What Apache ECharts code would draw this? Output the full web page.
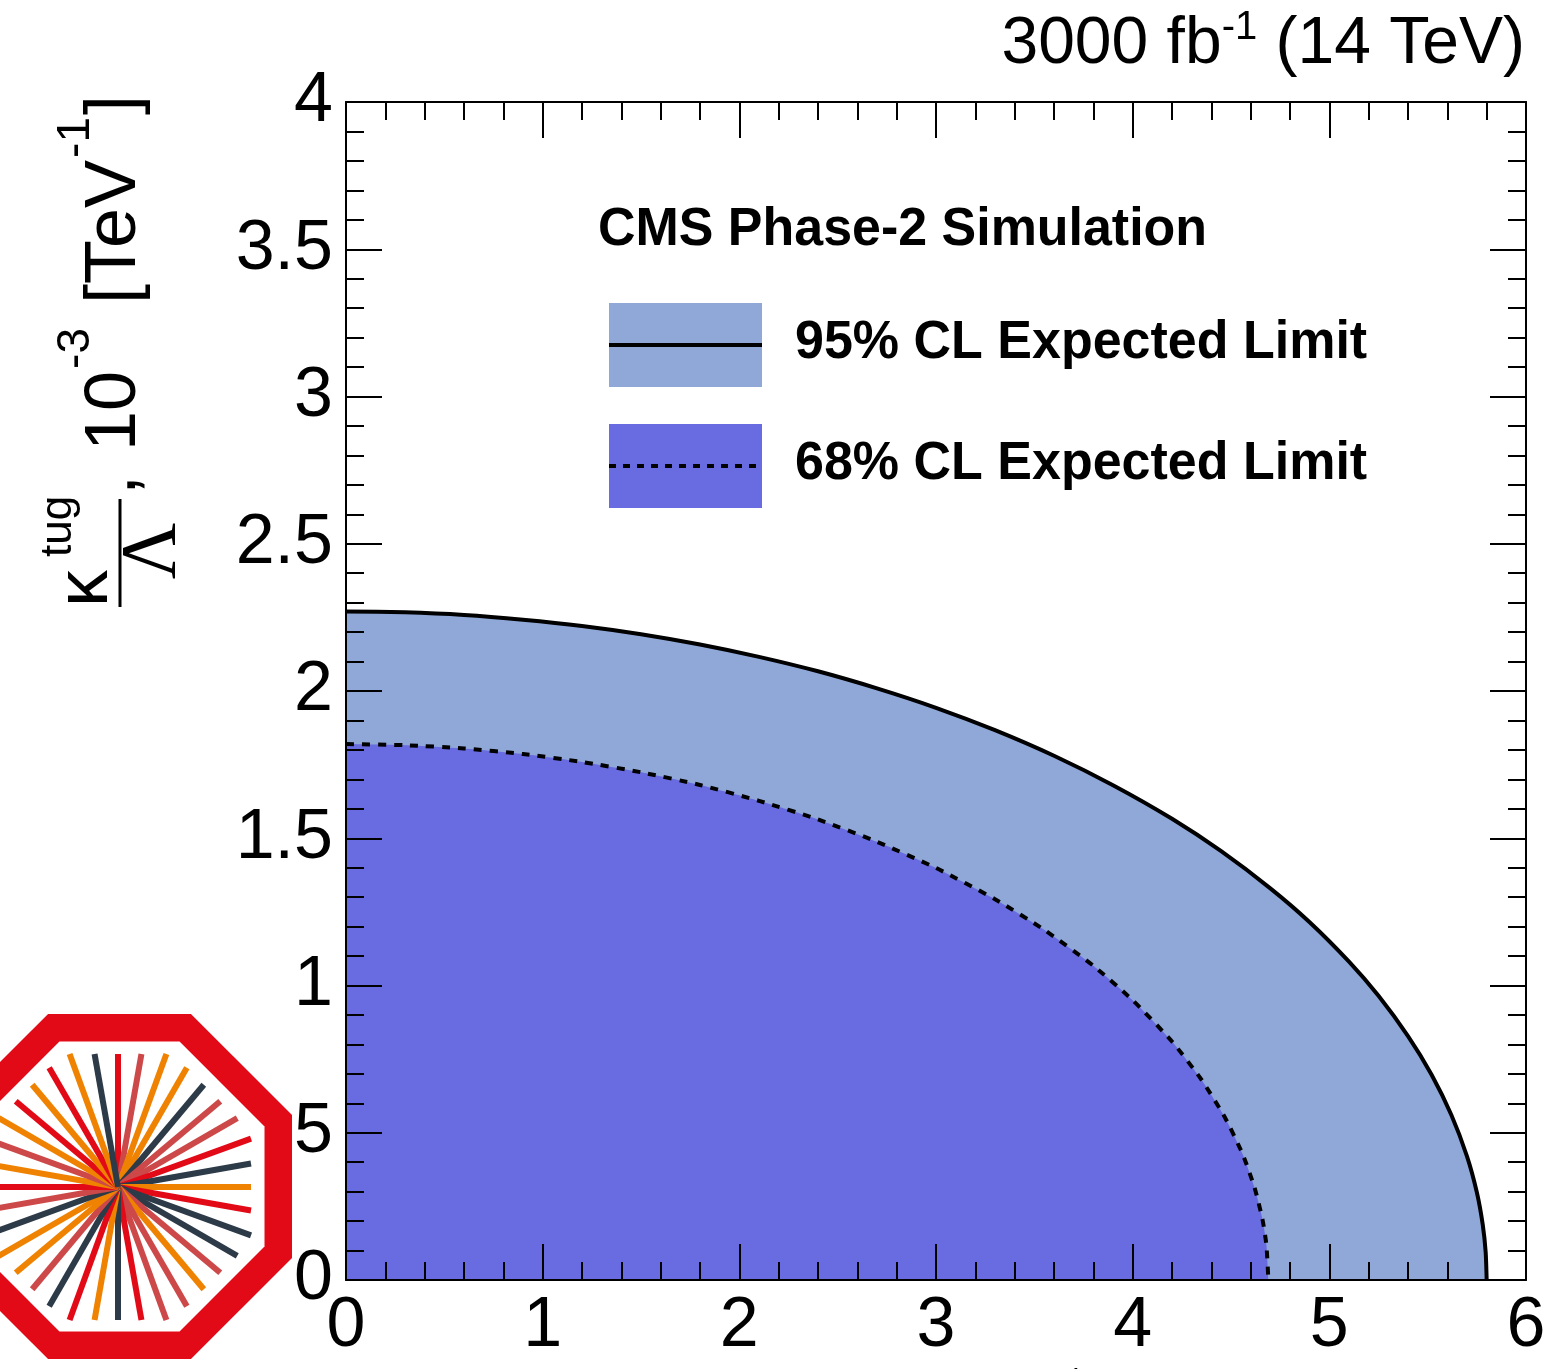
<!DOCTYPE html>
<html>
<head>
<meta charset="utf-8">
<script src="https://cdn.jsdelivr.net/npm/echarts@6/dist/echarts.min.js"></script>
<style>
  html, body { margin: 0; padding: 0; background: #fff; }
  #chart { width: 1562px; height: 1369px; }
</style>
</head>
<body>
<div id="chart"></div>
<script>
// Expected-limit contours in the (kappa_tcg/Lambda, kappa_tug/Lambda) plane
const limit95X = [0, 0.3, 0.6, 0.9, 1.2, 1.5, 1.8, 2.1, 2.4, 2.7, 3.0, 3.3, 3.6, 3.9, 4.2, 4.45, 4.7, 4.9, 5.1, 5.25, 5.4, 5.52, 5.62, 5.7, 5.75, 5.78, 5.795, 5.8];
const limit95Y = [2.27, 2.267, 2.258, 2.242, 2.221, 2.193, 2.158, 2.116, 2.067, 2.009, 1.943, 1.867, 1.78, 1.68, 1.566, 1.456, 1.33, 1.215, 1.081, 0.965, 0.828, 0.697, 0.561, 0.42, 0.298, 0.188, 0.094, 0];
const limit68X = [0, 0.3, 0.6, 0.9, 1.2, 1.5, 1.8, 2.1, 2.4, 2.7, 3.0, 3.3, 3.55, 3.8, 4.0, 4.2, 4.35, 4.47, 4.56, 4.62, 4.66, 4.68, 4.69];
const limit68Y = [1.82, 1.816, 1.805, 1.786, 1.759, 1.724, 1.681, 1.627, 1.564, 1.488, 1.399, 1.293, 1.189, 1.067, 0.95, 0.81, 0.68, 0.551, 0.426, 0.313, 0.206, 0.119, 0];
const legendLabels = ['95% CL Expected Limit', '68% CL Expected Limit'];
const fill95 = '#8FA8D8';
const fill68 = '#696BE0';

const SANS = '"Liberation Sans", Arial, sans-serif';
const SERIF = '"Liberation Serif", serif';
const measureCtx = document.createElement('canvas').getContext('2d');
function textWidth(t, size, family, weight) {
  measureCtx.font = (weight || 'normal') + ' ' + size + 'px ' + family;
  return measureCtx.measureText(t).width;
}
// place text pieces one after another on a common baseline (v = 0)
function textRun(pieces, u0) {
  let u = u0;
  const els = [];
  pieces.forEach(p => {
    const fam = p.serif ? SERIF : SANS;
    const mid = p.serif ? 0.3375 : 0.3465;
    u += p.gap || 0;
    els.push({
      type: 'text', x: u, y: p.base - mid * p.size,
      style: { text: p.text, fontSize: p.size, fontFamily: fam, fontWeight: p.weight || 'normal',
               fill: '#000', align: 'left', verticalAlign: 'middle' }
    });
    u += textWidth(p.text, p.size, fam, p.weight);
  });
  return { els, end: u };
}
function plainText(x, y, text, size, opts) {
  opts = opts || {};
  return {
    type: 'text', x: x, y: y, z: opts.z || 20,
    scaleX: opts.scaleX || 1,
    style: { text: text, fontSize: size, fontFamily: opts.serif ? SERIF : SANS,
             fontWeight: opts.weight || 'normal', fill: '#000',
             align: opts.align || 'left', verticalAlign: 'middle' }
  };
}

// axis title: kappa^{sup}/Lambda, 10^{-3} [TeV^{-1}]
function axisTitle(sup) {
  const kids = [];
  kids.push(textRun([{ text: 'κ', size: 74, base: -28 }], 0).els[0]);
  kids.push(textRun([{ text: sup, size: 44, base: -66 }], 50).els[0]);
  kids.push({ type: 'line', shape: { x1: 0, y1: -20, x2: 108, y2: -20 }, style: { stroke: '#000', lineWidth: 3 } });
  kids.push({
    type: 'text', x: 56, y: 40 - 0.3375 * 78,
    style: { text: 'Λ', fontSize: 78, fontFamily: SERIF, fill: '#000', align: 'center', verticalAlign: 'middle' }
  });
  const rest = textRun([
    { text: ',', size: 72, base: 0 },
    { text: ' 10', size: 72, base: 0, gap: 4 },
    { text: '-3', size: 46, base: -48, gap: 2 },
    { text: ' [TeV', size: 72, base: 0, gap: 4 },
    { text: '-1', size: 46, base: -48, gap: 2 },
    { text: ']', size: 72, base: 0, gap: 2 }
  ], 112);
  return kids.concat(rest.els);
}

// energy / luminosity header, right aligned
const headerPieces = [
  { text: '3000 fb', size: 66, base: 0 },
  { text: '-1', size: 40, base: -26 },
  { text: ' (14 TeV)', size: 66, base: 0 }
];
const headerWidth = textRun(headerPieces, 0).end;
const header = { type: 'group', x: 1525 - headerWidth, y: 68, children: textRun(headerPieces, 0).els };

// CMS logo: octagon with radiating tracks
function octagon(cx, cy, apothem) {
  const R = apothem / Math.cos(Math.PI / 8);
  const pts = [];
  for (let k = 0; k < 8; k++) {
    const a = Math.PI / 8 + k * Math.PI / 4;
    pts.push([cx + R * Math.cos(a), cy + R * Math.sin(a)]);
  }
  return pts;
}
const RED = '#E20A17', DARK = '#2D3A47', ORANGE = '#EF8200', SALMON = '#CD4848';
const rayColors = [RED, SALMON, ORANGE, ORANGE, DARK, SALMON, SALMON, RED, DARK, ORANGE,
  RED, DARK, DARK, SALMON, ORANGE, SALMON, SALMON, RED, DARK, ORANGE,
  RED, DARK, SALMON, ORANGE, ORANGE, DARK, SALMON, RED, ORANGE, SALMON,
  ORANGE, RED, ORANGE, RED, ORANGE, DARK];
const logo = [];
logo.push({ type: 'polygon', z: 100, shape: { points: octagon(119.5, 1186.5, 172.5) }, style: { fill: RED } });
logo.push({ type: 'polygon', z: 101, shape: { points: octagon(119.5, 1186.5, 145) }, style: { fill: '#fff' } });
rayColors.forEach((c, i) => {
  const deg = i * 10;
  const off = ((deg % 45) + 45) % 45;
  const diff = Math.min(off, 45 - off) * Math.PI / 180;
  const r = 133 / Math.cos(diff);
  const a = deg * Math.PI / 180;
  logo.push({
    type: 'line', z: 102,
    shape: { x1: 118, y1: 1187, x2: 118 + r * Math.sin(a), y2: 1187 - r * Math.cos(a) },
    style: { stroke: c, lineWidth: 6, lineCap: 'butt' }
  });
});

// legend block
const legendEls = [
  plainText(598, 230, 'CMS Phase-2 Simulation', 54, { weight: 'bold', scaleX: 0.962 }),
  { type: 'rect', z: 20, shape: { x: 609, y: 303, width: 153, height: 84 }, style: { fill: fill95 } },
  { type: 'line', z: 21, shape: { x1: 609, y1: 345, x2: 762, y2: 345 }, style: { stroke: '#000', lineWidth: 4 } },
  plainText(795, 343, legendLabels[0], 54, { weight: 'bold', scaleX: 0.963 }),
  { type: 'rect', z: 20, shape: { x: 609, y: 424, width: 153, height: 84 }, style: { fill: fill68 } },
  { type: 'line', z: 21, shape: { x1: 609, y1: 466, x2: 762, y2: 466 }, style: { stroke: '#000', lineWidth: 4, lineDash: [7, 7] } },
  plainText(795, 464, legendLabels[1], 54, { weight: 'bold', scaleX: 0.963 })
];

const axisStyle = { color: '#000', width: 2 };
function frameAxis(pos, max, interval, labels) {
  return {
    type: 'value', position: pos, min: 0, max: max, interval: interval, z: 10,
    axisLine: { show: true, onZero: false, lineStyle: axisStyle },
    axisTick: { show: true, inside: true, length: 36, lineStyle: axisStyle },
    minorTick: { show: true, splitNumber: 5, length: 18, lineStyle: axisStyle },
    splitLine: { show: false },
    axisLabel: labels ? { show: true, fontSize: 70, color: '#000', fontFamily: SANS,
                          margin: (pos === 'left' ? 13 : 12) } : { show: false }
  };
}

const chart = echarts.init(document.getElementById('chart'), null, { renderer: 'canvas' });
chart.setOption({
  animation: false,
  backgroundColor: '#fff',
  grid: { left: 346, right: 36, top: 102, bottom: 89, containLabel: false },
  xAxis: [frameAxis('bottom', 6, 1, true), frameAxis('top', 6, 1, false)],
  yAxis: [frameAxis('left', 4, 0.5, true), frameAxis('right', 4, 0.5, false)],
  series: [
    {
      name: legendLabels[0], type: 'line', xAxisIndex: 0, yAxisIndex: 0,
      data: limit95X.map((x, i) => [x, limit95Y[i]]),
      symbol: 'none', smooth: 0.2,
      lineStyle: { color: '#000', width: 4 },
      areaStyle: { color: fill95, opacity: 1 }
    },
    {
      name: legendLabels[1], type: 'line', xAxisIndex: 0, yAxisIndex: 0,
      data: limit68X.map((x, i) => [x, limit68Y[i]]),
      symbol: 'none', smooth: 0.2,
      lineStyle: { color: '#000', width: 4, type: [8, 8] },
      areaStyle: { color: fill68, opacity: 1 }
    }
  ],
  graphic: [
    header,
    { type: 'group', x: 140, y: 607, rotation: Math.PI / 2, children: axisTitle('tug') },
    { type: 'group', x: 1020, y: 1466, children: axisTitle('tcg') }
  ].concat(legendEls, logo)
});
</script>
</body>
</html>
